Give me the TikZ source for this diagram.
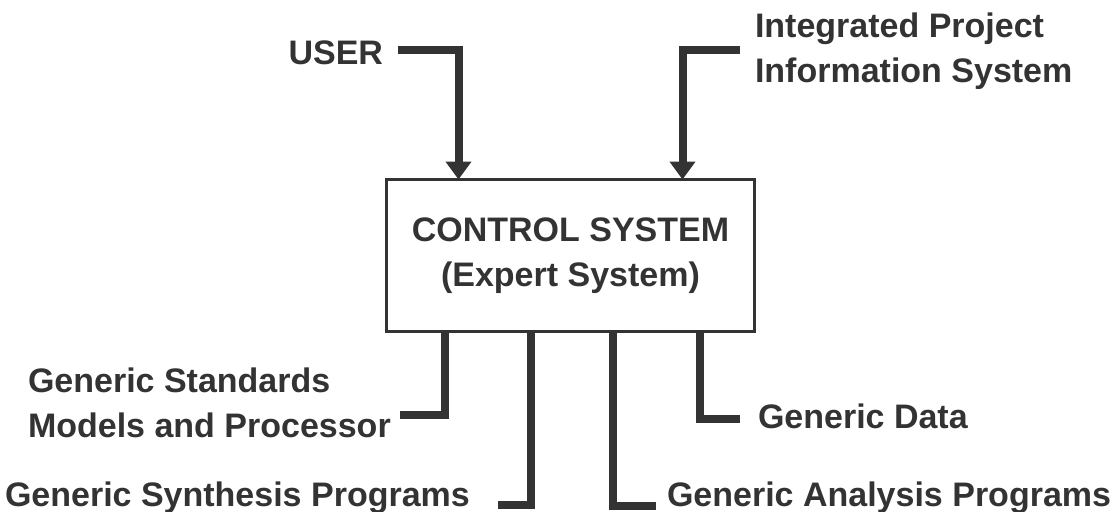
\documentclass[tikz,border=0pt]{standalone}
\usepackage{fontspec}
\setmainfont{Liberation Sans}
\usetikzlibrary{arrows.meta}
\definecolor{ink}{HTML}{333333}
\begin{document}
\begin{tikzpicture}[x=0.5pt,y=-0.5pt,
  lbl/.style={inner sep=0pt, outer sep=0pt, text=ink,
    font=\fontsize{17}{22.5}\selectfont\bfseries},
  box/.style={draw=ink, line width=1.5pt, inner sep=0pt, outer sep=0pt,
    minimum width=184pt, minimum height=76pt, align=center, text=ink,
    font=\fontsize{17}{22.5}\selectfont\bfseries},
  conn/.style={draw=ink, line width=4pt, line cap=butt, line join=miter},
  feed/.style={conn, -{Triangle[width=12.5pt,length=9pt]}}]
\useasboundingbox (0,0) rectangle (1120,511);

% central block
\node[box] (cs) at (570.5,255.5) {\raisebox{-2pt}{CONTROL SYSTEM}\\\raisebox{-2pt}{(Expert System)}};

% inputs above the block (base anchors sit on the last line)
\node[lbl, anchor=base east] (user) at (383,64) {USER};
\node[lbl, anchor=base west, align=left] (ipis) at (755,82)
  {Integrated Project\\Information System};

% outputs below the block
\node[lbl, anchor=base west, align=left] (std) at (28,437)
  {Generic Standards\\Models and Processor};
\node[lbl, anchor=base west] (syn) at (5,506) {Generic Synthesis Programs};
\node[lbl, anchor=base west] (ana) at (667,506) {Generic Analysis Programs};
\node[lbl, anchor=base west] (dat) at (758,428) {Generic Data};

% free ends of the connectors, next to their labels
\coordinate (userEnd) at (398,50);
\coordinate (ipisEnd) at (740,50);
\coordinate (stdEnd)  at (400,415);
\coordinate (synEnd)  at (498,505);
\coordinate (anaEnd)  at (656,506);
\coordinate (datEnd)  at (740,419);

% feeds into the block
\draw[feed] (userEnd) -| ([xshift=36pt]cs.north west);
\draw[feed] (ipisEnd) -| ([xshift=-36pt]cs.north east);

% links out of the block
\draw[conn] ([xshift=29pt]cs.south west) |- (stdEnd);
\draw[conn] ([xshift=72pt]cs.south west) |- (synEnd);
\draw[conn] ([xshift=-71pt]cs.south east) |- (anaEnd);
\draw[conn] ([xshift=-27.5pt]cs.south east) |- (datEnd);
\end{tikzpicture}
\end{document}
